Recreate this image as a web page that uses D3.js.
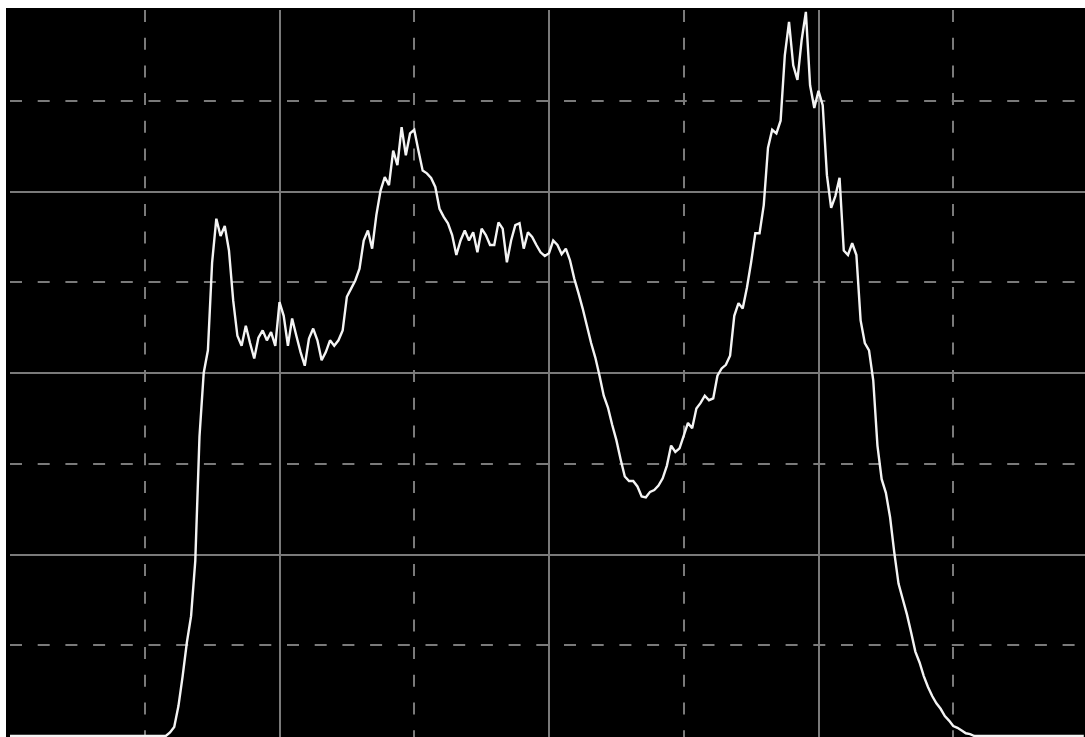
<!DOCTYPE html>
<html>
<head>
<meta charset="utf-8">
<script src="https://cdn.jsdelivr.net/npm/d3@7"></script>
<style>
  html, body { margin: 0; padding: 0; background: #ffffff; overflow: hidden; }
  svg { display: block; }
</style>
</head>
<body>
<svg id="chart" width="1085" height="737"></svg>
<script>
// Histogram counts for intensity bins 0..255
const leadingZeros = new Array(38).fill(0);            // bins 0..37
const risingEdge = [4, 10, 33, 66, 103, 132, 193, 330, 400, 425];          // bins 38..47
const firstPeak = [522, 570, 551, 562, 535, 480, 441, 430, 452, 433,
                   416, 439, 447, 436, 445, 430, 478, 463, 430, 460,
                   441, 423, 408, 438, 449, 436, 414, 423, 436, 430,
                   436, 447];                                             // bins 48..79
const secondPeak = [484, 493, 502, 515, 546, 557, 537, 574, 601, 616,
                    607, 645, 629, 671, 640, 664, 668, 645, 623, 620,
                    615, 605, 581, 572, 565, 552, 530, 546, 557, 546,
                    555, 533, 559, 552, 541, 541, 566, 559, 522, 546,
                    563, 565, 537, 555, 550, 541, 533, 529, 532, 546,
                    541, 531, 537, 524];                                  // bins 80..133
const valley = [504, 488, 471, 452, 433, 417, 397, 375, 362, 343,
                326, 305, 286, 281, 281, 275, 264, 263, 269, 271,
                276, 284, 298, 320, 313, 317, 331, 345, 339, 361,
                367, 375, 370, 372, 397, 405, 409, 419, 463, 477,
                471, 494];                                                // bins 134..175
const thirdPeak = [522, 554, 554, 585, 648, 668, 664, 678, 750, 787,
                   739, 723, 767, 798, 717, 692, 711, 695, 618, 582,
                   595, 615, 535, 530, 543, 530, 458, 433, 425, 392];     // bins 176..205
const fallingEdge = [320, 283, 268, 241, 202, 168, 151, 134, 114, 93,
                     81, 66, 54, 44, 36, 30, 22, 17, 11, 9,
                     6, 3, 2, 0];                                         // bins 206..229
const trailingZeros = new Array(26).fill(0);           // bins 230..255

const counts = [].concat(leadingZeros, risingEdge, firstPeak, secondPeak,
                         valley, thirdPeak, fallingEdge, trailingZeros);

const xTicks = [32, 64, 96, 128, 160, 192, 224];
const yTicks = [100, 200, 300, 400, 500, 600, 700];

const svg = d3.select("#chart");

const x = d3.scaleLinear().domain([0, 256]).range([10, 1088]);
const y = d3.scaleLinear().domain([0, 800]).range([736, 10]);

// plot background
svg.append("rect")
  .attr("x", 6).attr("y", 8)
  .attr("width", 1085 - 6).attr("height", 737 - 8)
  .attr("fill", "#000000");

const gridColor = "#7a7a7a";
const dash = "12,15.7";

// vertical grid: alternating dashed / solid
const grid = svg.append("g").attr("class", "grid");
grid.selectAll("line.v")
  .data(xTicks)
  .join("line")
  .attr("class", "v")
  .attr("x1", d => Math.round(x(d)))
  .attr("x2", d => Math.round(x(d)))
  .attr("y1", 10)
  .attr("y2", 737)
  .attr("stroke", gridColor)
  .attr("stroke-width", 2)
  .attr("stroke-dasharray", (d, i) => i % 2 === 0 ? dash : null);

// horizontal grid: alternating solid / dashed from the top
grid.selectAll("line.h")
  .data(yTicks)
  .join("line")
  .attr("class", "h")
  .attr("x1", 10)
  .attr("x2", 1085)
  .attr("y1", d => Math.round(y(d)))
  .attr("y2", d => Math.round(y(d)))
  .attr("stroke", gridColor)
  .attr("stroke-width", 2)
  .attr("stroke-dasharray", (d, i) => i % 2 === 0 ? dash : null);

// histogram trace
const line = d3.line()
  .x((d, i) => x(i))
  .y(d => y(d));

svg.append("path")
  .datum(counts)
  .attr("d", line)
  .attr("fill", "none")
  .attr("stroke", "#f4f4f4")
  .attr("stroke-width", 2.4)
  .attr("stroke-linejoin", "miter")
  .attr("stroke-miterlimit", 2);
</script>
</body>
</html>
